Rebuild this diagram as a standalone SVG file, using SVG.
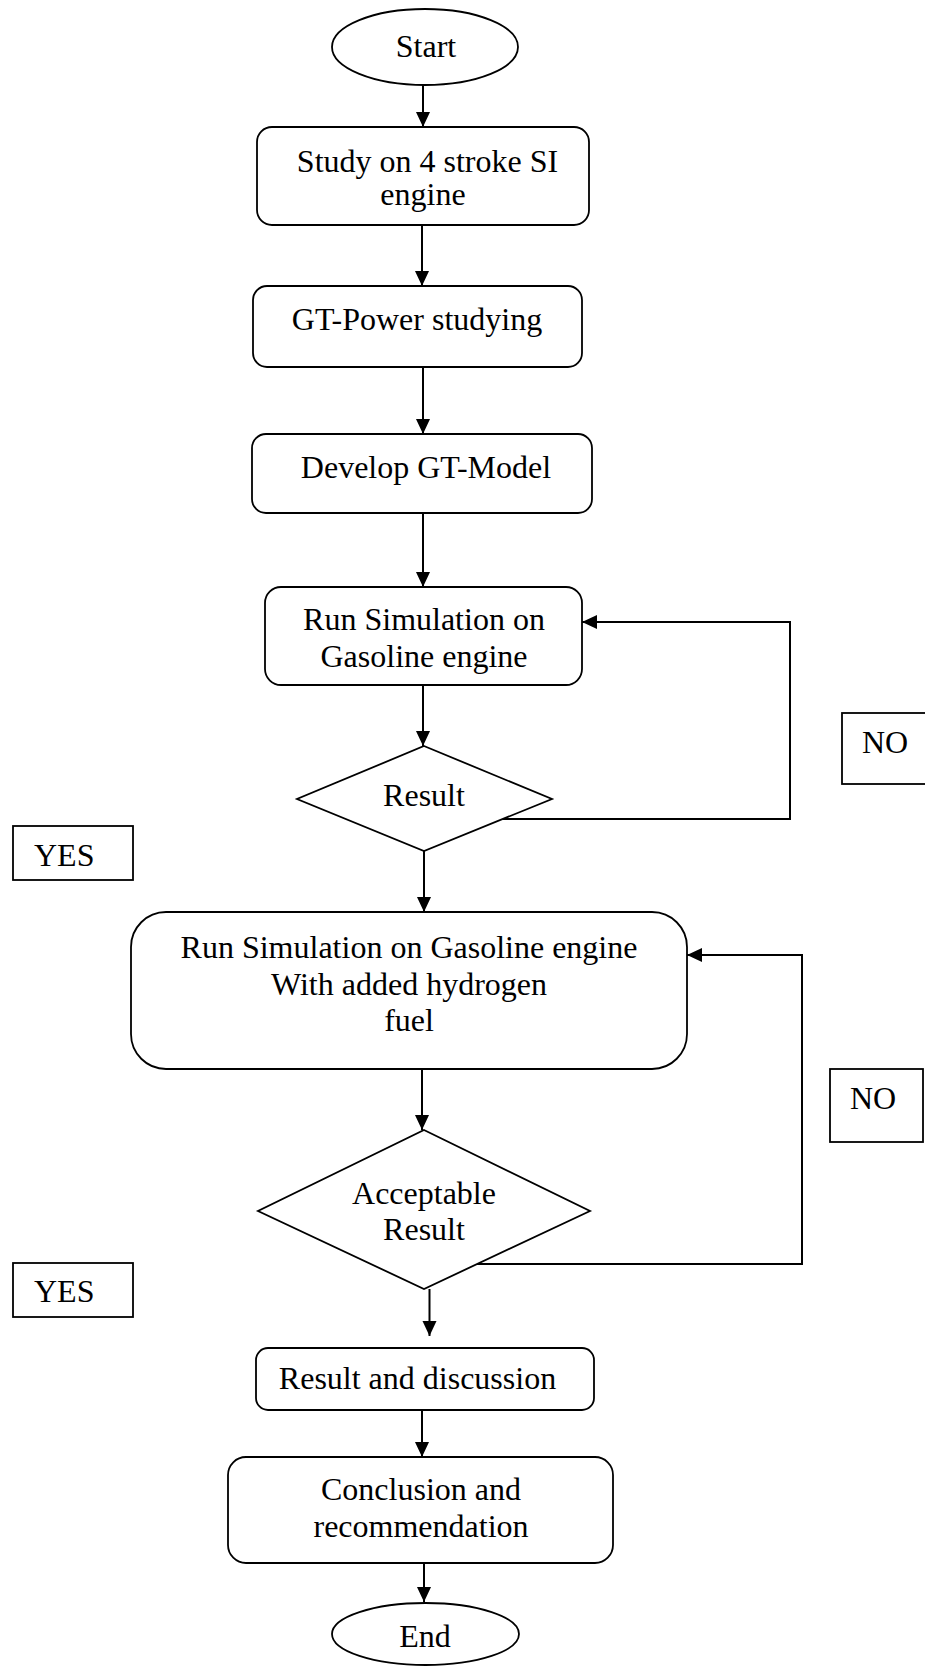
<svg xmlns="http://www.w3.org/2000/svg" width="925" height="1666" viewBox="0 0 925 1666">
<style>
.n{fill:#fff;stroke:#000;stroke-width:1.8}
.t{font-family:"Liberation Serif","Times New Roman",serif;font-size:32px;fill:#000}
.c{text-anchor:middle}
.e{fill:none;stroke:#000;stroke-width:2}
</style>
<defs>
<marker id="ah" markerUnits="userSpaceOnUse" markerWidth="16" markerHeight="16" viewBox="0 0 16 14" refX="15" refY="7" orient="auto">
<path d="M0,0 L15,7 L0,14 Z" fill="#000"/>
</marker>
</defs>
<rect width="925" height="1666" fill="#fff"/>
<g id="connectors">
<path class="e" d="M423,85 V127" marker-end="url(#ah)"/>
<path class="e" d="M422,225 V286" marker-end="url(#ah)"/>
<path class="e" d="M423,367 V434" marker-end="url(#ah)"/>
<path class="e" d="M423,513 V587" marker-end="url(#ah)"/>
<path class="e" d="M423,685 V746" marker-end="url(#ah)"/>
<path class="e" d="M503,819 H790 V622 H582" marker-end="url(#ah)"/>
<path class="e" d="M424,851 V912" marker-end="url(#ah)"/>
<path class="e" d="M422,1069 V1130" marker-end="url(#ah)"/>
<path class="e" d="M472,1264 H802 V955 H687" marker-end="url(#ah)"/>
<path class="e" d="M429.5,1289 V1336" marker-end="url(#ah)"/>
<path class="e" d="M422,1410 V1457" marker-end="url(#ah)"/>
<path class="e" d="M424,1563 V1602" marker-end="url(#ah)"/>
</g>
<g id="start">
<ellipse class="n" cx="425" cy="47" rx="93" ry="38"/>
<text class="t c" x="426" y="57">Start</text>
</g>
<g id="study">
<rect class="n" x="257" y="127" width="332" height="98" rx="15"/>
<text class="t c" x="427.5" y="172">Study on 4 stroke SI</text>
<text class="t c" x="423" y="205">engine</text>
</g>
<g id="gtpower">
<rect class="n" x="253" y="286" width="329" height="81" rx="14"/>
<text class="t c" x="417" y="330">GT-Power studying</text>
</g>
<g id="develop">
<rect class="n" x="252" y="434" width="340" height="79" rx="14"/>
<text class="t c" x="426" y="478">Develop GT-Model</text>
</g>
<g id="runsim">
<rect class="n" x="265" y="587" width="317" height="98" rx="16"/>
<text class="t c" x="424" y="630">Run Simulation on</text>
<text class="t c" x="424" y="667">Gasoline engine</text>
</g>
<g id="result1">
<polygon class="n" points="424,746 552,799 424,851 297,799"/>
<text class="t c" x="424" y="806">Result</text>
</g>
<g id="no1">
<rect class="n" x="842" y="713" width="100" height="71"/>
<text class="t" x="862" y="753">NO</text>
</g>
<g id="yes1">
<rect class="n" x="13" y="826" width="120" height="54"/>
<text class="t" x="34" y="866">YES</text>
</g>
<g id="runsim2">
<rect class="n" x="131" y="912" width="556" height="157" rx="35"/>
<text class="t c" x="409" y="958">Run Simulation on Gasoline engine</text>
<text class="t c" x="409" y="995">With added hydrogen</text>
<text class="t c" x="409" y="1031">fuel</text>
</g>
<g id="acceptable">
<polygon class="n" points="424,1130 590,1211 424,1289 258,1211"/>
<text class="t c" x="424" y="1204">Acceptable</text>
<text class="t c" x="424" y="1240">Result</text>
</g>
<g id="no2">
<rect class="n" x="830" y="1069" width="93" height="73"/>
<text class="t" x="850" y="1109">NO</text>
</g>
<g id="yes2">
<rect class="n" x="13" y="1263" width="120" height="54"/>
<text class="t" x="34" y="1302">YES</text>
</g>
<g id="discussion">
<rect class="n" x="256" y="1348" width="338" height="62" rx="12"/>
<text class="t c" x="417.5" y="1389">Result and discussion</text>
</g>
<g id="conclusion">
<rect class="n" x="228" y="1457" width="385" height="106" rx="18"/>
<text class="t c" x="421" y="1500">Conclusion and</text>
<text class="t c" x="421" y="1537">recommendation</text>
</g>
<g id="end">
<ellipse class="n" cx="425.5" cy="1634" rx="93.5" ry="31"/>
<text class="t c" x="425" y="1647">End</text>
</g>
</svg>
